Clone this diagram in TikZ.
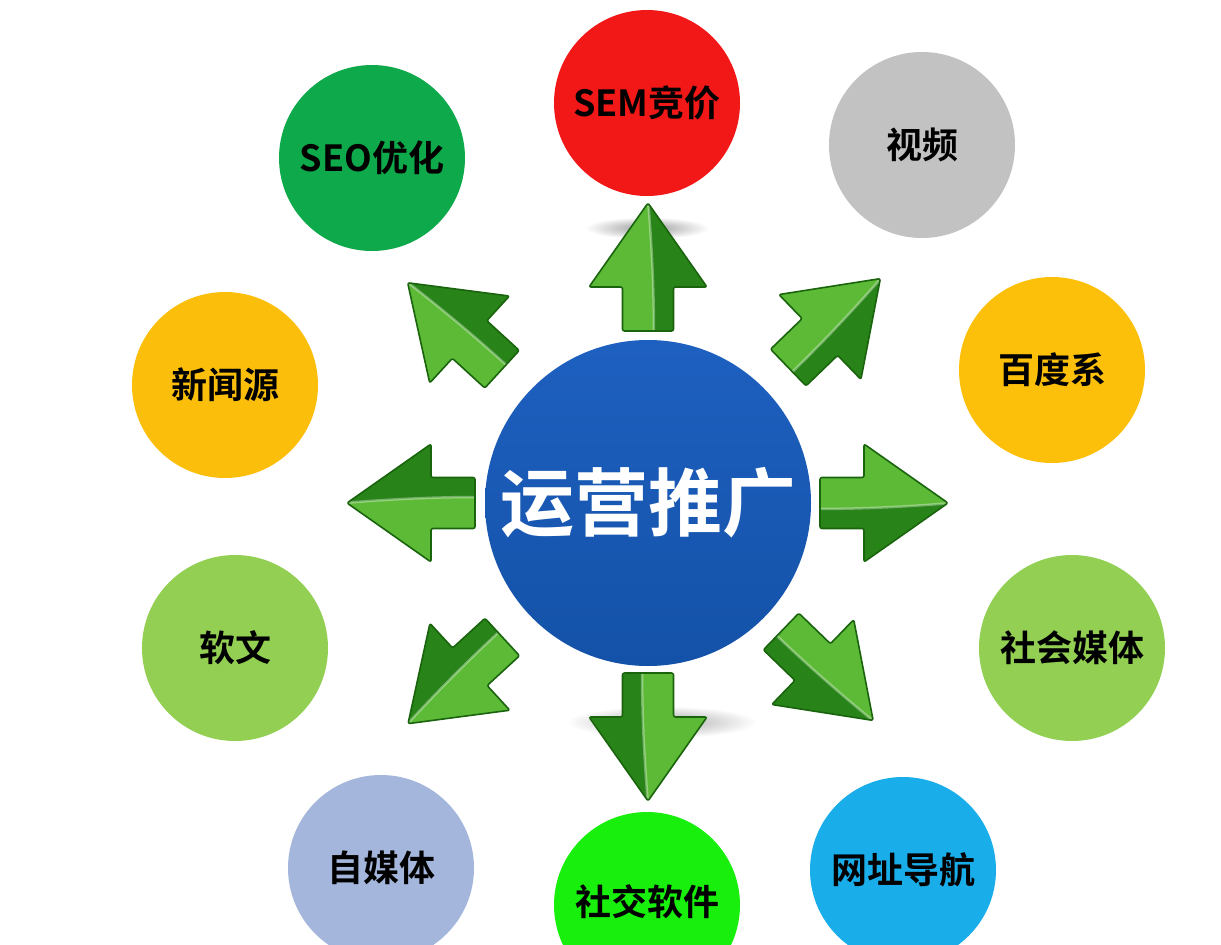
\documentclass[tikz,border=0pt]{standalone}
\usepackage{fontspec}
\newfontfamily\cjk{Noto Sans CJK SC}[BoldFont={Noto Sans CJK SC Bold}]
\usetikzlibrary{calc}
\definecolor{cSeo}{RGB}{14,169,75}
\definecolor{cSem}{RGB}{242,24,24}
\definecolor{cVid}{RGB}{194,194,194}
\definecolor{cBai}{RGB}{253,192,10}
\definecolor{cNew}{RGB}{251,191,11}
\definecolor{cSoc}{RGB}{146,207,82}
\definecolor{cSoft}{RGB}{146,207,82}
\definecolor{cZim}{RGB}{164,182,220}
\definecolor{cApp}{RGB}{24,239,12}
\definecolor{cNav}{RGB}{25,174,234}
\definecolor{hubTop}{RGB}{30,96,192}
\definecolor{hubBot}{RGB}{20,82,168}
\definecolor{arrDark}{RGB}{40,132,24}
\definecolor{arrLight}{RGB}{92,186,54}
\definecolor{arrEdge}{RGB}{26,100,14}
\tikzset{
  outer/.style={circle, minimum size=186pt, inner sep=0pt,
    font=\cjk\bfseries\fontsize{36}{40}\selectfont, text=black},
  garrow/.pic={
    \begin{scope}[xshift=#1pt]
      \path[fill=arrDark, rounded corners=2pt]
        (0,-25.5) -- (44,-25.5) -- (44,-59) -- (128,0) -- (44,59) -- (44,25.5) -- (0,25.5) -- cycle;
      \begin{scope}
        \clip[rounded corners=2pt]
          (0,-25.5) -- (44,-25.5) -- (44,-59) -- (128,0) -- (44,59) -- (44,25.5) -- (0,25.5) -- cycle;
        \fill[arrLight] (-5,-70) -- (-5,6) .. controls (50,6) and (95,3) .. (132,0) -- (132,-70) -- cycle;
        \draw[white, opacity=0.35, line width=2.5pt] (-5,6) .. controls (50,6) and (95,3) .. (132,0);
      \end{scope}
      \path[draw=arrEdge, line width=1.6pt, rounded corners=2pt, line join=round]
        (0,-25.5) -- (44,-25.5) -- (44,-59) -- (128,0) -- (44,59) -- (44,25.5) -- (0,25.5) -- cycle;
    \end{scope}
  }
}
\begin{document}
\begin{tikzpicture}[x=1pt, y=-1pt]
  \useasboundingbox (0,0) rectangle (1221,945);
  \clip (0,0) rectangle (1221,945);
  \fill[white] (0,0) rectangle (1221,945);

  % centre
  \node[circle, minimum size=326pt, inner sep=0pt, top color=hubTop, bottom color=hubBot,
        text=white, font=\cjk\bfseries\fontsize{74}{78}\selectfont] (hub) at (648,503) {运营推广};

  % shadows
  \shade[inner color=black!40, outer color=white] (647,228) ellipse (62pt and 11pt);
  \shade[inner color=black!35, outer color=white] (662,722) ellipse (95pt and 16pt);

  % arrows
  \pic[rotate=90]    at (hub.center) {garrow=172};
  \pic[rotate=270]   at (hub.center) {garrow=170};
  \pic[rotate=180]   at (hub.center) {garrow=173};
  \pic[rotate=0]     at (hub.center) {garrow=172};
  \pic[rotate=44]    at (hub.center) {garrow=195};
  \pic[rotate=137.5] at (hub.center) {garrow=198};
  \pic[rotate=222.6] at (hub.center) {garrow=198};
  \pic[rotate=316]   at (hub.center) {garrow=185};

  % outer circles
  \node[outer, fill=cSem] (sem)  at (647,103) {SEM竞价};
  \node[outer, fill=cVid] (vid)  at (922,145) {视频};
  \node[outer, fill=cBai] (bai)  at (1052,370) {百度系};
  \node[outer, fill=cSoc] (soc)  at (1072,648) {社会媒体};
  \node[outer, fill=cNav] (nav)  at (903,870) {网址导航};
  \node[outer, fill=cApp] (app)  at (647,905) {};
  \node[font=\cjk\bfseries\fontsize{36}{40}\selectfont] (appt) at (647,902) {社交软件};
  \node[outer, fill=cZim] (zim)  at (381,868) {自媒体};
  \node[outer, fill=cSoft] (soft) at (235,648) {软文};
  \node[outer, fill=cNew] (news) at (225,385) {新闻源};
  \node[outer, fill=cSeo] (seo)  at (372,158) {SEO优化};
\end{tikzpicture}
\end{document}
